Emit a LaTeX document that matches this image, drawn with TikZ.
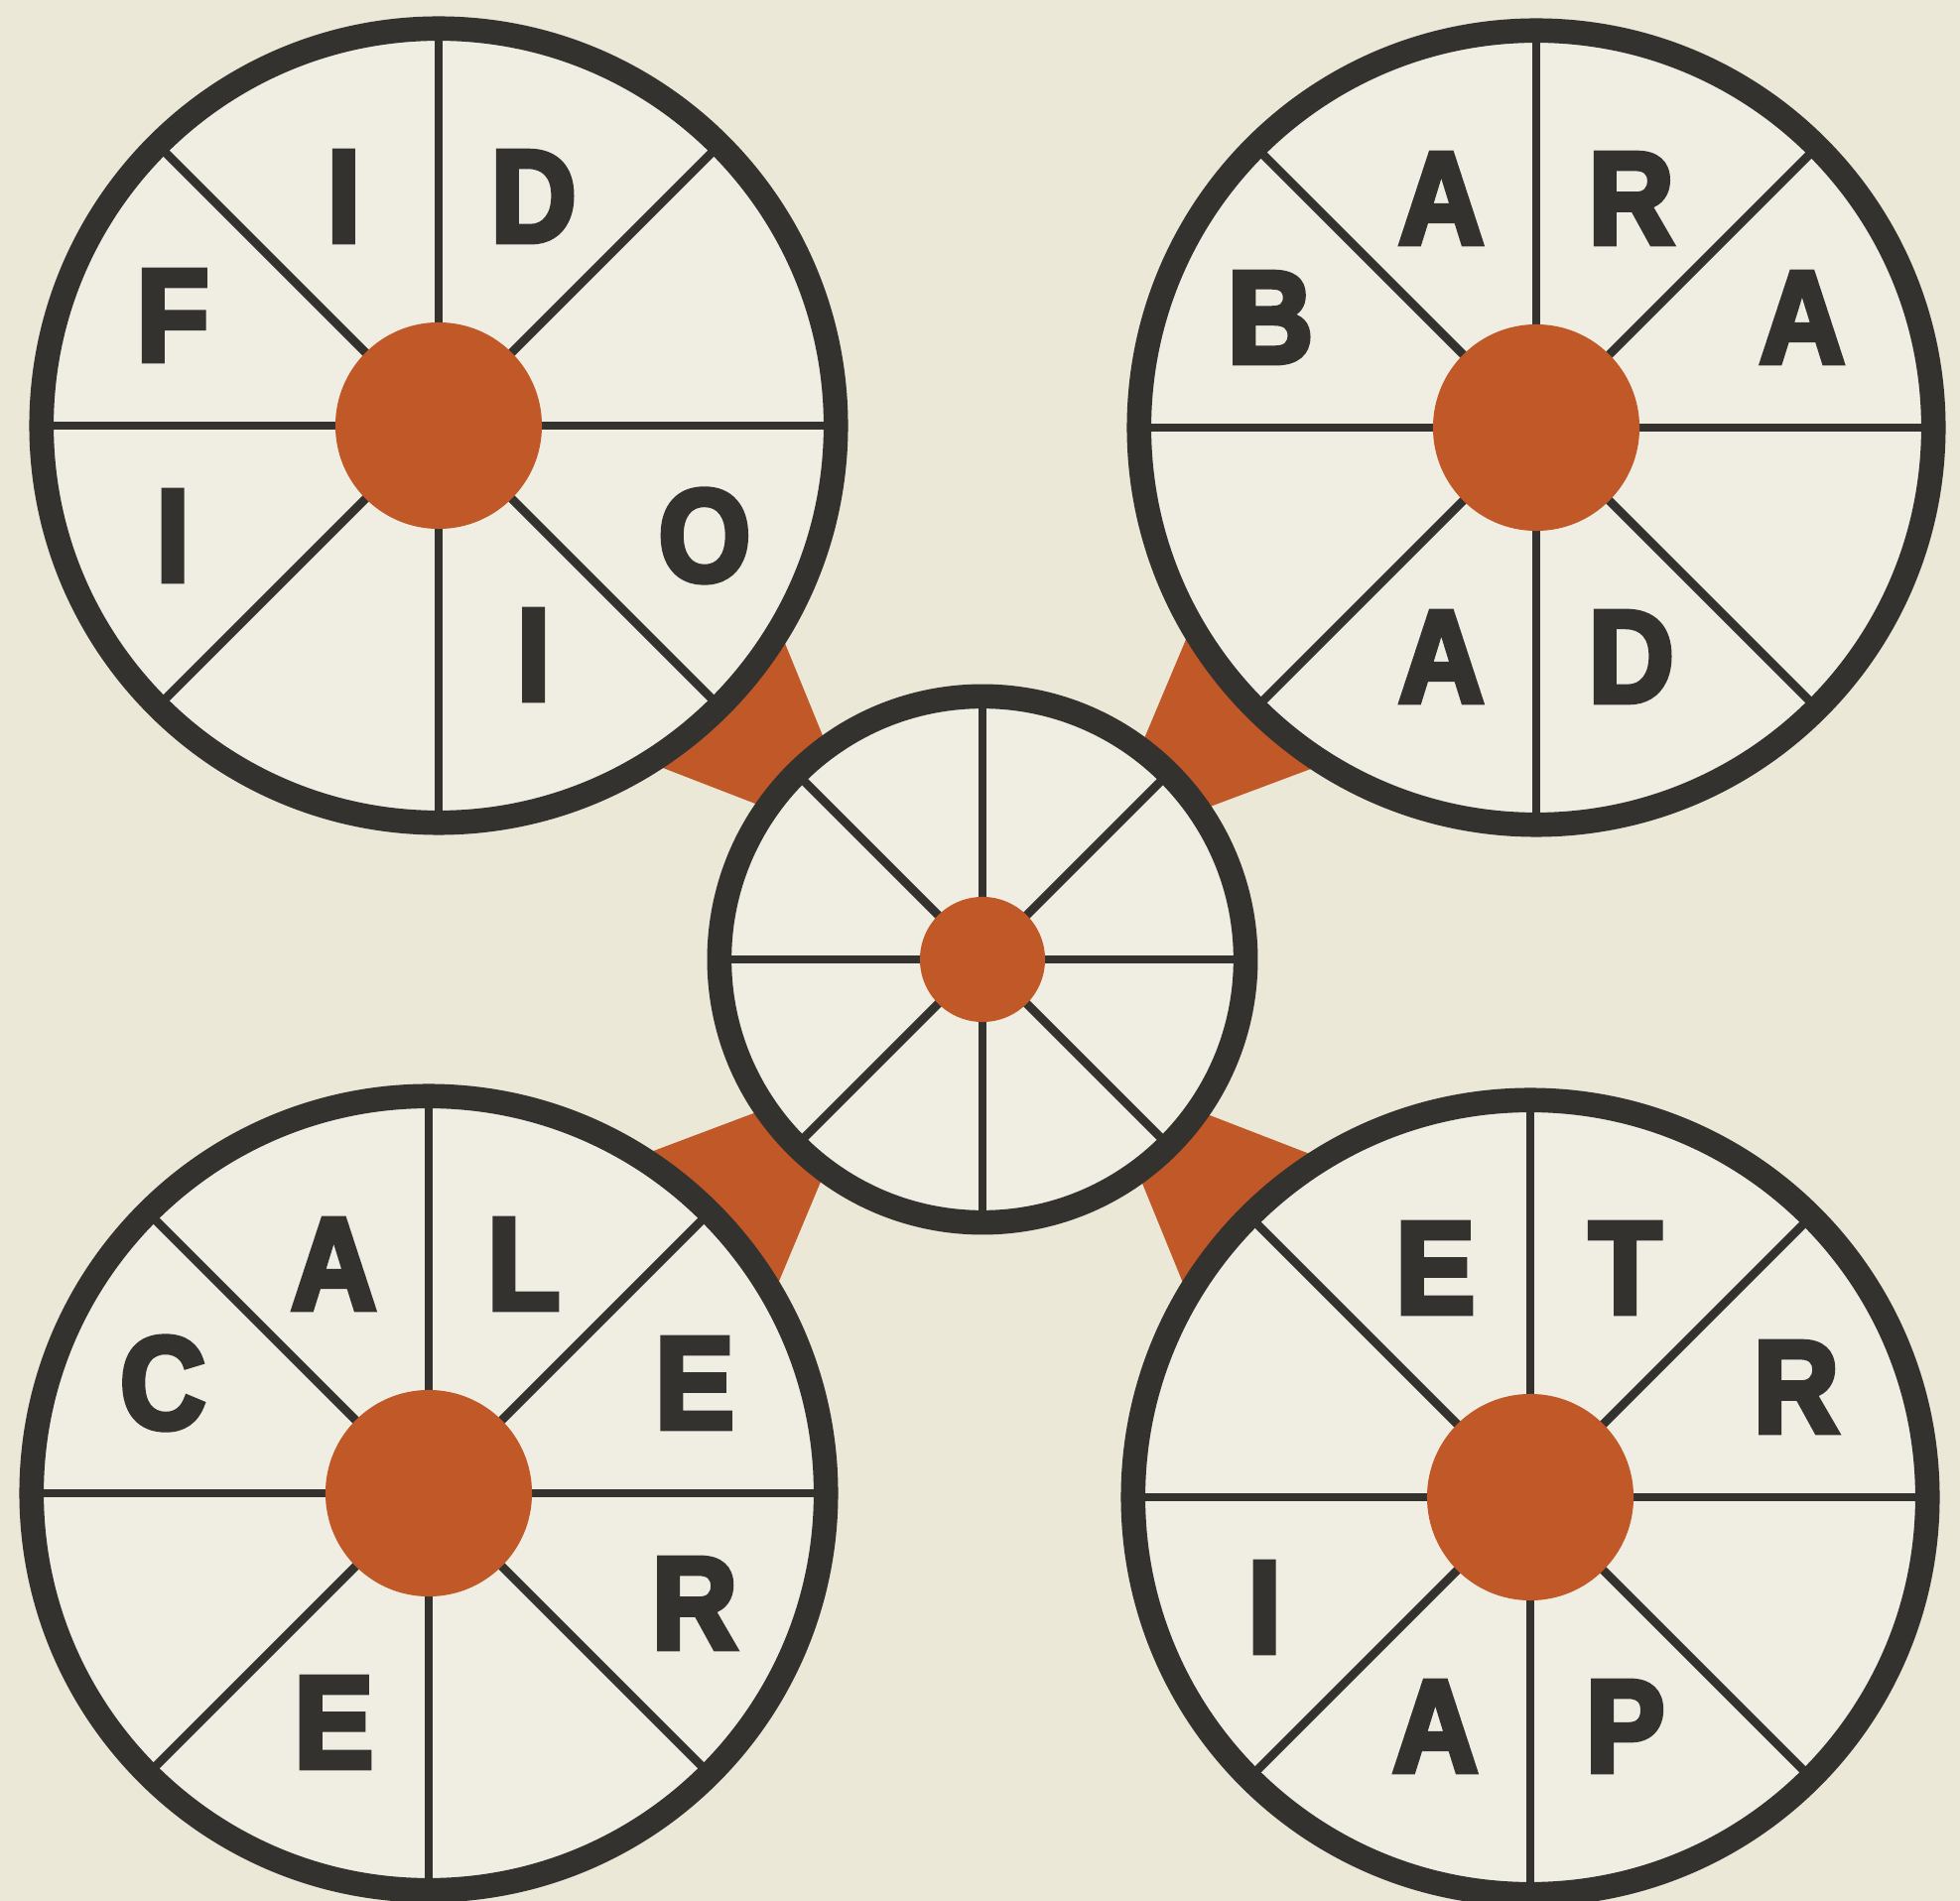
\documentclass[tikz,border=0pt]{standalone}
\usepackage{fontspec}
\newfontfamily\wheelfont[FakeStretch=0.9,FakeBold=4.5]{Liberation Sans}
\usetikzlibrary{calc}
\definecolor{paper}{RGB}{235,232,216}
\definecolor{disc}{RGB}{240,238,227}
\definecolor{ink}{RGB}{52,50,47}
\definecolor{rust}{RGB}{192,88,40}
\pgfdeclarelayer{bg}
\pgfdeclarelayer{wedge}
\pgfsetlayers{bg,wedge,main}

\begin{document}
\begin{tikzpicture}[
    x=0.01cm, y=0.01cm,
    wheel/.style={circle, draw=ink, line width=7pt, fill=disc, inner sep=0pt, outer sep=0pt, minimum size=8cm},
    spoke/.style={draw=ink, line width=2.5pt},
    hub/.style={circle, fill=rust, inner sep=0pt, minimum size=2.08cm},
    letter/.style={inner sep=0pt, text=ink, font=\wheelfont\bfseries\fontsize{37.5}{40}\selectfont}
]
\begin{pgfonlayer}{bg}
\fill[paper] (0,0) rectangle (1975,-1916);
\end{pgfonlayer}
\useasboundingbox (0,0) rectangle (1975,-1916);

\node[wheel] (tl) at (442,-429) {};
\node[wheel] (tr) at (1548,-431) {};
\node[wheel] (bl) at (432,-1505) {};
\node[wheel] (br) at (1542,-1509) {};
\node[wheel, minimum size=5.3cm] (mid) at (990,-967) {};

\begin{pgfonlayer}{wedge}
\foreach \w in {tl,tr,bl,br}
  \fill[rust] ($(mid.center)!2.424cm!8.06:(\w.center)$) -- ($(mid.center)!4.131cm!14.44:(\w.center)$)
    -- ($(mid.center)!4.131cm!-14.44:(\w.center)$) -- ($(mid.center)!2.424cm!-8.06:(\w.center)$) -- cycle;
\end{pgfonlayer}

\foreach \w in {tl,tr,bl,br,mid}
  \foreach \a in {0,45,...,315}
    \draw[spoke] (\w.center) -- (\w.\a);

\foreach \w in {tl,tr,bl,br}
  \node[hub] (\w hub) at (\w) {};
\node[hub, minimum size=1.26cm] (mid hub) at (mid) {};

\foreach \a/\r/\t [count=\i] in {67.5/250/D, 112.5/250/I, 157.5/290/F, 202.5/290/I, 292.5/250/I, 337.5/290/O}
  \node[letter] (tl\i) at ([shift={(\a:\r)}]tl.center) {\t};
\foreach \a/\r/\t [count=\i] in {22.5/290/A, 67.5/250/R, 112.5/250/A, 157.5/290/B, 247.5/250/A, 292.5/250/D}
  \node[letter] (tr\i) at ([shift={(\a:\r)}]tr.center) {\t};
\foreach \a/\r/\t [count=\i] in {22.5/290/E, 67.5/250/L, 112.5/250/A, 157.5/290/C, 247.5/250/E, 337.5/290/R}
  \node[letter] (bl\i) at ([shift={(\a:\r)}]bl.center) {\t};
\foreach \a/\r/\t [count=\i] in {22.5/290/R, 67.5/250/T, 112.5/250/E, 202.5/290/I, 247.5/250/A, 292.5/250/P}
  \node[letter] (br\i) at ([shift={(\a:\r)}]br.center) {\t};
\end{tikzpicture}
\end{document}
